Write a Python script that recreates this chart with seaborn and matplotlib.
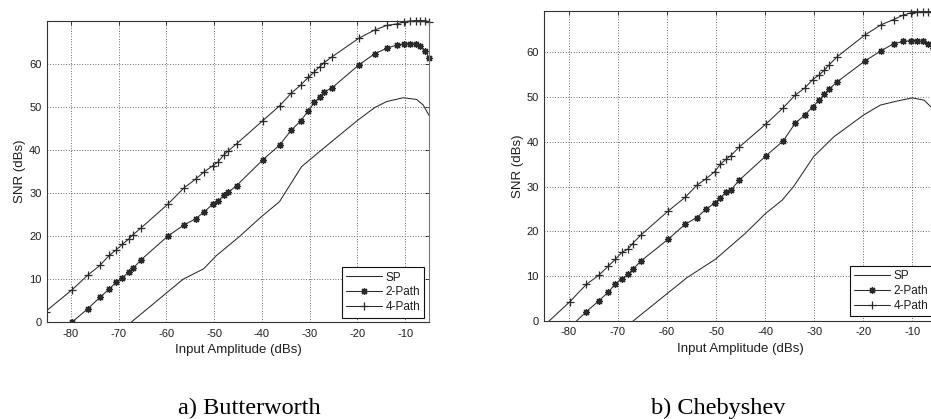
import matplotlib
matplotlib.use("Agg")
import matplotlib.pyplot as plt
import seaborn as sns
from matplotlib.transforms import Bbox, TransformedBbox

# Input amplitude sweep (dB) shared by the 2-Path and 4-Path measurements
input_db = [-85.3, -79.8, -76.4, -73.9, -72.0, -70.5, -69.2, -67.9, -67.0, -65.3,
            -59.7, -56.3, -53.9, -52.1, -50.3, -49.1, -48.0, -47.0, -45.3, -39.8,
            -36.3, -33.9, -31.9, -30.3, -29.0, -27.9, -27.0, -25.3, -19.7, -16.4,
            -13.8, -11.8, -10.3, -9.0, -7.8, -6.8, -5.8, -5.0]

# a) Butterworth
bw_2path = [-5.0, 0.0, 3.2, 5.8, 7.7, 9.3, 10.3, 11.7, 12.5, 14.5,
            20.0, 22.6, 24.0, 25.6, 27.4, 28.1, 29.5, 30.2, 31.7, 37.7,
            41.1, 44.5, 46.7, 49.0, 51.0, 52.2, 53.4, 54.4, 59.7, 62.3,
            63.6, 64.3, 64.6, 64.6, 64.6, 64.1, 63.0, 61.4]
bw_4path = [2.5, 7.5, 11.0, 13.2, 15.5, 16.8, 18.1, 19.3, 20.3, 21.9,
            27.4, 31.2, 33.2, 34.9, 36.3, 37.3, 38.8, 39.8, 41.4, 46.8,
            50.2, 53.1, 55.0, 56.8, 58.1, 59.3, 60.2, 61.6, 65.9, 67.8,
            68.9, 69.2, 69.7, 69.9, 70.0, 70.0, 70.0, 69.7]
bw_sp_db = [-67.4, -56.5, -52.2, -49.6, -44.7, -40.1, -36.3, -31.7, -27.5,
            -19.9, -16.4, -13.9, -10.4, -7.6, -6.2, -5.0]
bw_sp = [0.0, 10.0, 12.4, 15.4, 19.9, 24.5, 28.0, 36.1, 40.0,
         46.9, 49.8, 51.2, 52.1, 51.7, 50.4, 48.0]

# b) Chebyshev
ch_2path = [-7.0, -1.4, 2.1, 4.5, 6.4, 8.3, 9.4, 10.4, 11.5, 13.4,
            18.3, 21.6, 23.1, 24.9, 26.3, 27.5, 28.7, 29.2, 31.4, 36.9,
            40.2, 44.1, 46.0, 47.8, 49.3, 50.6, 51.7, 53.4, 58.0, 60.3,
            61.9, 62.4, 62.6, 62.6, 62.4, 61.8, 60.9, 59.0]
ch_4path = [-1.3, 4.3, 8.2, 10.2, 12.2, 13.8, 15.3, 16.1, 17.3, 19.2,
            24.6, 27.6, 30.3, 31.7, 33.3, 35.0, 36.1, 36.9, 38.8, 44.0,
            47.6, 50.4, 52.0, 53.9, 54.9, 56.0, 57.1, 59.0, 63.8, 66.1,
            67.3, 68.3, 68.8, 69.0, 69.0, 69.0, 69.0, 69.0]
ch_sp_db = [-66.9, -55.9, -50.1, -44.0, -39.9, -36.5, -34.2, -30.1, -26.0,
            -19.9, -16.5, -13.1, -10.0, -7.6, -6.1, -5.0]
ch_sp = [0.0, 9.7, 13.8, 19.6, 24.0, 27.0, 30.0, 36.7, 41.1,
         46.0, 48.2, 49.1, 49.8, 49.3, 47.7, 45.5]

x_ticks = [-80, -70, -60, -50, -40, -30, -20, -10]
y_ticks = [0, 10, 20, 30, 40, 50, 60]
captions = ["a) Butterworth", "b) Chebyshev"]

sns.set_style("white")
plt.rcParams["font.family"] = ["Liberation Sans", "DejaVu Sans"]

W, H = 931, 419
fig = plt.figure(figsize=(W / 100, H / 100), dpi=100)

# axes boxes in pixels: left, bottom(from top), right, top(from top)
boxes = [(47, 322.3, 429, 21), (544.3, 321, 936.8, 11)]
ytops = [69.9, 69.2]
panels = [
    (bw_sp_db, bw_sp, bw_2path, bw_4path),
    (ch_sp_db, ch_sp, ch_2path, ch_4path),
]
caption_x = [249, 718]

line_col = "#2a2a2a"
txt_col = "#1e1e1e"
asterisk = (8, 2, 0)

for i, ((sp_x, sp_y, p2, p4), (l, b, r, t)) in enumerate(zip(panels, boxes)):
    ax = fig.add_axes([l / W, (H - b) / H, (r - l) / W, (b - t) / H])
    sns.lineplot(x=sp_x, y=sp_y, ax=ax, color=line_col, linewidth=0.75,
                 estimator=None, sort=False, label="SP")
    sns.lineplot(x=input_db, y=p2, ax=ax, color=line_col, linewidth=0.75,
                 estimator=None, sort=False, label="2-Path",
                 marker=asterisk, markersize=5, markeredgewidth=0.9,
                 markeredgecolor=line_col, markerfacecolor=line_col)
    sns.lineplot(x=input_db, y=p4, ax=ax, color=line_col, linewidth=0.75,
                 estimator=None, sort=False, label="4-Path",
                 marker="+", markersize=5.5, markeredgewidth=0.9,
                 markeredgecolor=line_col)

    # let markers sitting on the top/right edge show in full
    clip = TransformedBbox(Bbox([[0, 0], [1.02, 1.06]]), ax.transAxes)
    for ln in ax.get_lines():
        ln.set_clip_box(clip)

    ax.set_xlim(-85, -5)
    ax.set_ylim(0, ytops[i])
    ax.set_xticks(x_ticks)
    ax.set_yticks(y_ticks)
    ax.set_xticklabels([str(v) for v in x_ticks])
    ax.grid(True, color="#3a3a3a", linestyle=(0, (1, 2.2)), linewidth=0.6)
    ax.tick_params(direction="in", length=3, width=0.6, top=True, right=True,
                   labelsize=8, colors=txt_col, pad=4)
    ax.tick_params(axis="x", pad=4.5)
    for side, sp in ax.spines.items():
        sp.set_linewidth(0.8)
        sp.set_color("#333333")
        sp.set_visible(True)
    ax.spines["right"].set_color("#777777")
    ax.set_xlabel("Input Amplitude (dBs)", fontsize=9.5, color=txt_col, labelpad=4)
    ax.set_ylabel("SNR (dBs)", fontsize=9.5, color=txt_col, labelpad=2)

    leg = ax.legend(loc="lower right", fontsize=8.5, numpoints=1,
                    handlelength=3.0, handletextpad=0.3, labelspacing=0.25,
                    borderaxespad=0.4, borderpad=0.35, fancybox=False,
                    framealpha=1, edgecolor="#111111")
    leg.get_frame().set_linewidth(0.8)
    for txt in leg.get_texts():
        txt.set_color(txt_col)

    fig.text(caption_x[i] / W, 1 - 408 / H, captions[i], ha="center", va="center",
             fontsize=17.5, family=["Liberation Serif", "DejaVu Serif"], color="#000000")

fig.savefig("out.png", dpi=100)
